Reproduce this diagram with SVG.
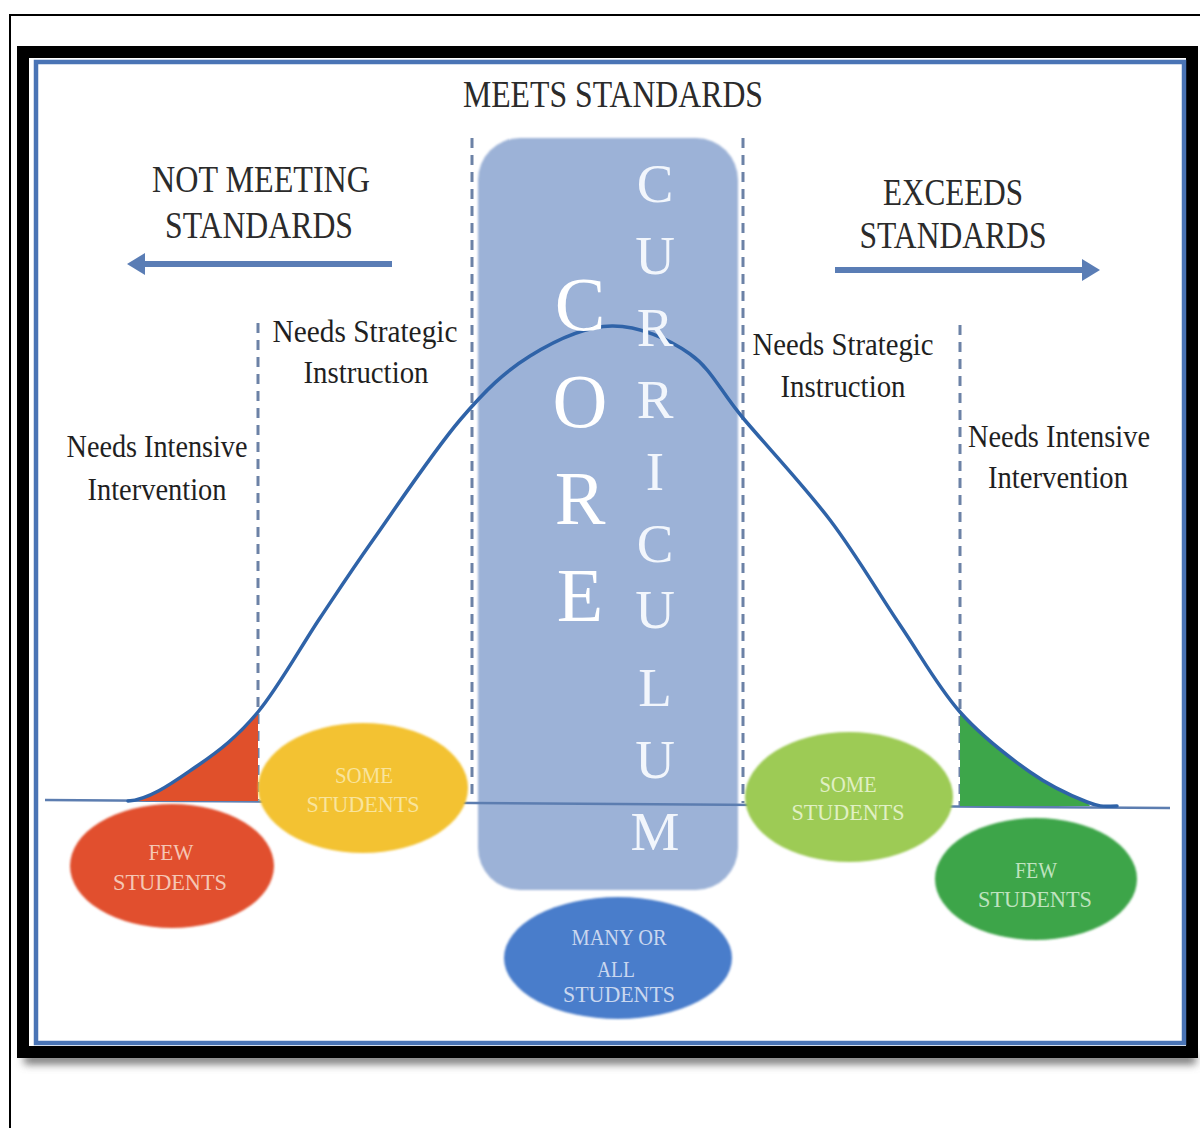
<svg xmlns="http://www.w3.org/2000/svg" width="1200" height="1128" viewBox="0 0 1200 1128">
  <defs>
    <style>
      .head{font-family:"Liberation Serif","Times New Roman",serif;font-size:37px;fill:#2b2b2b;text-anchor:middle}
      .lbl{font-family:"Liberation Serif","Times New Roman",serif;font-size:31px;fill:#1f1f1f;text-anchor:middle}
      .oval{font-family:"Liberation Serif","Times New Roman",serif;font-size:24px;text-anchor:middle}
      .core{font-family:"Liberation Serif","Times New Roman",serif;font-size:76px;fill:#ffffff;text-anchor:middle}
      .curr{font-family:"Liberation Serif","Times New Roman",serif;font-size:55px;fill:#f2f6fc;text-anchor:middle}
      .dash{stroke:#6c82a6;stroke-width:3;stroke-dasharray:10 7;fill:none}
      .arrow{stroke:#5a7db5;stroke-width:6;fill:none;marker-end:url(#tip)}
    </style>
    <marker id="tip" markerUnits="userSpaceOnUse" markerWidth="20" markerHeight="22" refX="10" refY="11" orient="auto">
      <path d="M0,0 L18,11 L0,22 z" fill="#5a7db5"/>
    </marker>
    <filter id="drop" x="-5%" y="-200%" width="110%" height="500%">
      <feGaussianBlur stdDeviation="4"/>
    </filter>
    <filter id="soft" x="-10%" y="-10%" width="120%" height="120%">
      <feGaussianBlur stdDeviation="0.8"/>
    </filter>
  </defs>

  <!-- page frame -->
  <path d="M10,1128 V15 H1200" stroke="#000" stroke-width="2" fill="none"/>
  <rect x="24" y="1054" width="1172" height="10" fill="#6f6f6f" filter="url(#drop)"/>
  <rect x="23" y="52" width="1169" height="1000" fill="#ffffff" stroke="#000" stroke-width="12"/>
  <rect x="36" y="62" width="1148" height="981" fill="none" stroke="#4a74b5" stroke-width="4.5"/>

  <!-- core curriculum column -->
  <g id="core-column">
    <rect x="478" y="138" width="260" height="752" rx="42" fill="#9cb2d7" filter="url(#soft)"/>
  </g>

  <!-- connectors: dividers, axis, curve, arrows -->
  <g id="connectors">
    <line class="dash" x1="258" y1="323" x2="258" y2="800"/>
    <line class="dash" x1="472" y1="138" x2="472" y2="800"/>
    <line class="dash" x1="743" y1="138" x2="743" y2="803"/>
    <line class="dash" x1="960" y1="325" x2="960" y2="806"/>

    <line x1="45" y1="800" x2="1170" y2="808" stroke="#5c7db0" stroke-width="2.5"/>

    <path id="tail-low" d="M128,801 C150,800 175.3,780.8 197,766 S237.5,736.7 258,712 L258,801 Z" fill="#e0502b"/>
    <path id="tail-high" d="M960,712 C981.7,736.5 1008.8,757 1030,772 S1072.5,796.3 1087,802 L1090,806 L960,806 Z" fill="#3da64a"/>

    <path id="bell-curve" d="M128,801 C150,800 175.3,780.8 197,766 S237.5,736.7 258,712 S300.8,646.7 320,618 S349.7,573 373,540 S433.8,450.7 460,420 S504.7,371.7 530,356 S585.3,326.3 612,326 S668.2,338.7 690,354 S719.7,390.3 743,418 S803.8,485.5 830,520 S878.3,593 900,625 S938.3,687.5 960,712 S1008.8,757 1030,772 S1072.5,796.3 1087,802 S1105,806 1117,806" fill="none" stroke="#2f63a8" stroke-width="3.5" stroke-linecap="round"/>

    <line class="arrow" x1="392" y1="264" x2="135" y2="264"/>
    <line class="arrow" x1="835" y1="270" x2="1092" y2="270"/>
  </g>

  <!-- vertical lettering -->
  <g id="core-word">
    <text class="core" x="580" y="330">C</text>
    <text class="core" x="580" y="427">O</text>
    <text class="core" x="580" y="524">R</text>
    <text class="core" x="580" y="621">E</text>
  </g>
  <g id="curriculum-word">
    <text class="curr" x="655" y="202">C</text>
    <text class="curr" x="655" y="274">U</text>
    <text class="curr" x="655" y="346">R</text>
    <text class="curr" x="655" y="418">R</text>
    <text class="curr" x="655" y="490">I</text>
    <text class="curr" x="655" y="562">C</text>
    <text class="curr" x="655" y="628">U</text>
    <text class="curr" x="655" y="706">L</text>
    <text class="curr" x="655" y="778">U</text>
    <text class="curr" x="655" y="850">M</text>
  </g>

  <!-- headings -->
  <g id="meets-standards">
    <text class="head" x="613" y="107" textLength="300" lengthAdjust="spacingAndGlyphs">MEETS STANDARDS</text>
  </g>
  <g id="not-meeting">
    <text class="head" x="261" y="192" textLength="218" lengthAdjust="spacingAndGlyphs">NOT MEETING</text>
    <text class="head" x="259" y="238" textLength="188" lengthAdjust="spacingAndGlyphs">STANDARDS</text>
  </g>
  <g id="exceeds">
    <text class="head" x="953" y="205" textLength="140" lengthAdjust="spacingAndGlyphs">EXCEEDS</text>
    <text class="head" x="953" y="248" textLength="187" lengthAdjust="spacingAndGlyphs">STANDARDS</text>
  </g>

  <!-- tier labels -->
  <g id="strategic-left">
    <text class="lbl" x="365" y="342" textLength="185" lengthAdjust="spacingAndGlyphs">Needs Strategic</text>
    <text class="lbl" x="366" y="383" textLength="125" lengthAdjust="spacingAndGlyphs">Instruction</text>
  </g>
  <g id="intensive-left">
    <text class="lbl" x="157" y="457" textLength="181" lengthAdjust="spacingAndGlyphs">Needs Intensive</text>
    <text class="lbl" x="157" y="500" textLength="139" lengthAdjust="spacingAndGlyphs">Intervention</text>
  </g>
  <g id="strategic-right">
    <text class="lbl" x="843" y="355" textLength="181" lengthAdjust="spacingAndGlyphs">Needs Strategic</text>
    <text class="lbl" x="843" y="397" textLength="125" lengthAdjust="spacingAndGlyphs">Instruction</text>
  </g>
  <g id="intensive-right">
    <text class="lbl" x="1059" y="447" textLength="182" lengthAdjust="spacingAndGlyphs">Needs Intensive</text>
    <text class="lbl" x="1058" y="488" textLength="140" lengthAdjust="spacingAndGlyphs">Intervention</text>
  </g>

  <!-- student groups -->
  <g id="few-low">
    <ellipse cx="172" cy="866" rx="102" ry="62" fill="#e1502e" filter="url(#soft)"/>
    <text class="oval" fill="#f5c6b4" x="171" y="860" textLength="45" lengthAdjust="spacingAndGlyphs">FEW</text>
    <text class="oval" fill="#f5c6b4" x="170" y="890" textLength="114" lengthAdjust="spacingAndGlyphs">STUDENTS</text>
  </g>
  <g id="some-low">
    <ellipse cx="363" cy="788" rx="105" ry="65" fill="#f3c233" filter="url(#soft)"/>
    <text class="oval" fill="#f9e49c" x="364" y="783" textLength="58" lengthAdjust="spacingAndGlyphs">SOME</text>
    <text class="oval" fill="#f9e49c" x="363" y="812" textLength="113" lengthAdjust="spacingAndGlyphs">STUDENTS</text>
  </g>
  <g id="many-all">
    <ellipse cx="618" cy="958" rx="114" ry="61" fill="#4a7dcb" filter="url(#soft)"/>
    <text class="oval" fill="#c9d7ef" x="619" y="945" textLength="95" lengthAdjust="spacingAndGlyphs">MANY OR</text>
    <text class="oval" fill="#c9d7ef" x="616" y="977" textLength="38" lengthAdjust="spacingAndGlyphs">ALL</text>
    <text class="oval" fill="#c9d7ef" x="619" y="1002" textLength="112" lengthAdjust="spacingAndGlyphs">STUDENTS</text>
  </g>
  <g id="some-high">
    <ellipse cx="849" cy="797" rx="104" ry="65" fill="#9dcb55" filter="url(#soft)"/>
    <text class="oval" fill="#e0f0c4" x="848" y="792" textLength="57" lengthAdjust="spacingAndGlyphs">SOME</text>
    <text class="oval" fill="#e0f0c4" x="848" y="820" textLength="113" lengthAdjust="spacingAndGlyphs">STUDENTS</text>
  </g>
  <g id="few-high">
    <ellipse cx="1036" cy="879" rx="101" ry="61" fill="#3ea548" filter="url(#soft)"/>
    <text class="oval" fill="#bfe3bf" x="1036" y="878" textLength="42" lengthAdjust="spacingAndGlyphs">FEW</text>
    <text class="oval" fill="#bfe3bf" x="1035" y="907" textLength="114" lengthAdjust="spacingAndGlyphs">STUDENTS</text>
  </g>
</svg>
